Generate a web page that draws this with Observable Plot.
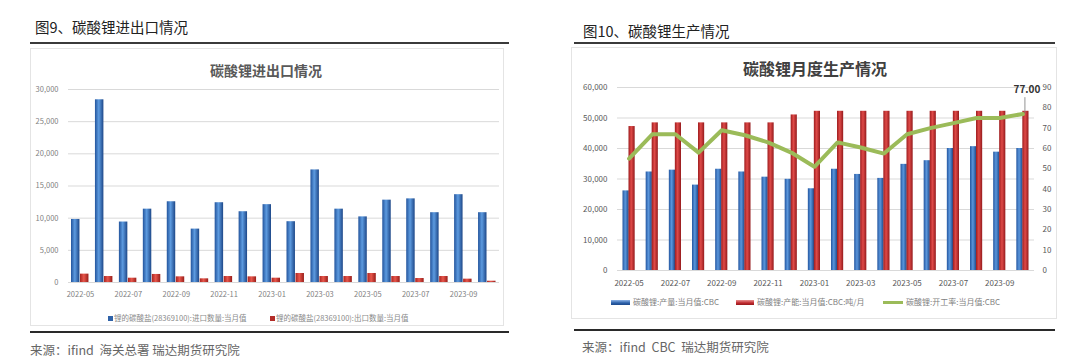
<!DOCTYPE html>
<html><head><meta charset="utf-8">
<script src="https://cdn.jsdelivr.net/npm/d3@7"></script>
<script src="https://cdn.jsdelivr.net/npm/@observablehq/plot@0.6"></script>
<style>
body{margin:0;background:#fff;}
#root{position:relative;width:1080px;height:363px;overflow:hidden;font-family:"Noto Sans CJK SC","Noto Sans",sans-serif;background:#fff;}
.abs{position:absolute;white-space:nowrap;}
.box{position:absolute;border:1px solid #e4e4e4;box-sizing:border-box;}
</style></head><body><div id="root"></div>
<script>
// ---- data ----
const months = ["2022-05","2022-06","2022-07","2022-08","2022-09","2022-10","2022-11","2022-12","2023-01","2023-02","2023-03","2023-04","2023-05","2023-06","2023-07","2023-08","2023-09","2023-10"];
const importQty = [9800,28400,9400,11400,12550,8300,12400,11000,12100,9450,17500,11400,10200,12800,13000,10850,13650,10850];
const exportQty = [1300,930,670,1250,880,570,930,880,670,1400,930,930,1400,930,620,930,520,200];
const production = [26100,32300,32900,28000,33200,32300,30600,29900,26800,33200,31500,30200,34800,36000,40000,40600,38800,40000];
const capacity = [47200,48400,48400,48400,48400,48400,48400,51000,52200,52200,52200,52200,52200,52200,52200,52200,52200,52200];
const rate = [55,67,67,58,69,66.5,63,58,51,63,60.5,57.5,67,70,72.5,75,75,77];
const yTicksLeft = [0,5000,10000,15000,20000,25000,30000];
const yTicksProd = [0,10000,20000,30000,40000,50000,60000];
const yTicksRate = [0,10,20,30,40,50,60,70,80,90];
const xTickLabels = months.filter((d,i)=>i%2===0);
const legendLeft = ["锂的碳酸盐(28369100):进口数量:当月值","锂的碳酸盐(28369100):出口数量:当月值"];
const legendRight = ["碳酸锂:产量:当月值:CBC","碳酸锂:产能:当月值:CBC:吨/月","碳酸锂:开工率:当月值:CBC"];

const FONT = '"Noto Sans CJK SC","Noto Sans",sans-serif';
const root = document.getElementById("root");
function add(html, css){const d=document.createElement("div");d.className="abs";d.innerHTML=html;Object.assign(d.style,css);root.appendChild(d);return d;}
function txt(s, left, cy, size, color, extra={}){return add(s,Object.assign({left:left+"px",top:(cy-size*0.7)+"px",fontSize:size+"px",lineHeight:(size*1.4)+"px",color},extra));}
function ctxt(s, cx, cy, size, color, extra={}){const d=txt(s,0,cy,size,color,extra);d.style.left=(cx-d.offsetWidth/2)+"px";return d;}
function addDefs(svg, html){const ns="http://www.w3.org/2000/svg";const defs=document.createElementNS(ns,"defs");defs.innerHTML=html;svg.insertBefore(defs,svg.firstChild);}

// ---- left panel ----
txt("图9、碳酸锂进出口情况",35,27,14.5,"#222");
add("",{left:"30px",top:"42px",width:"479px",height:"2px",background:"#3a3a3a"});
const boxL=document.createElement("div");boxL.className="box";Object.assign(boxL.style,{left:"30px",top:"48px",width:"474px",height:"278px"});root.appendChild(boxL);

const impData = months.map((m,i)=>({month:m,v:importQty[i]}));
const expData = months.map((m,i)=>({month:m,v:exportQty[i]}));
const leftPlot = Plot.plot({
  width:474,height:278,marginTop:41,marginBottom:44,marginLeft:38,marginRight:5,
  style:{fontFamily:FONT,fontSize:"7.5px",color:"#7f7f7f",background:"transparent"},
  x:{type:"band",domain:months,padding:0,round:false,label:null},
  y:{domain:[0,30000],label:null},
  marks:[
    Plot.gridY(yTicksLeft,{stroke:"#d9d9d9",strokeOpacity:1}),
    Plot.barY(impData,{x:"month",y:"v",fill:"url(#lgB)",insetLeft:3,insetRight:12.5}),
    Plot.barY(expData,{x:"month",y:"v",fill:"url(#lgR)",insetLeft:12,insetRight:3.5}),
    Plot.axisY(yTicksLeft,{tickSize:0,tickPadding:10,tickFormat:d3.format(","),label:null}),
    Plot.axisX(xTickLabels,{tickSize:0,tickPadding:9,label:null})
  ]
});
addDefs(leftPlot,`<linearGradient id="lgB" x1="0" x2="1" y1="0" y2="0"><stop offset="0" stop-color="#23549c"/><stop offset="0.45" stop-color="#5d9be0"/><stop offset="1" stop-color="#1d4788"/></linearGradient>
<linearGradient id="lgR" x1="0" x2="1" y1="0" y2="0"><stop offset="0" stop-color="#a82420"/><stop offset="0.45" stop-color="#e8574c"/><stop offset="1" stop-color="#981d19"/></linearGradient>`);
Object.assign(leftPlot.style,{position:"absolute",left:"30px",top:"48px"});
root.appendChild(leftPlot);
ctxt("碳酸锂进出口情况",266,71,14,"#595959",{fontWeight:"bold"});
add("",{left:"108px",top:"315.5px",width:"5px",height:"5px",background:"#2f62a8"});
txt(legendLeft[0],114,318,7.5,"#8a8a8a");
add("",{left:"270px",top:"315.5px",width:"5px",height:"5px",background:"#b32c28"});
txt(legendLeft[1],276,318,7.5,"#8a8a8a");
add("",{left:"30px",top:"331px",width:"479px",height:"2px",background:"#2a2a2a"});
txt("来源：ifind&nbsp; 海关总署 瑞达期货研究院",30,350,12.5,"#666");

// ---- right panel ----
txt("图10、碳酸锂生产情况",583,31,14.5,"#222");
add("",{left:"574px",top:"42px",width:"481px",height:"2px",background:"#3a3a3a"});
const boxR=document.createElement("div");boxR.className="box";Object.assign(boxR.style,{left:"571px",top:"47px",width:"486px",height:"272px"});root.appendChild(boxR);

const K = 60000/90;
const prodData = months.map((m,i)=>({month:m,prod:production[i],cap:capacity[i],rate:rate[i]}));
const last = [prodData[prodData.length-1]];
const rightPlot = Plot.plot({
  width:486,height:272,marginTop:40,marginBottom:49,marginLeft:46,marginRight:23,
  style:{fontFamily:FONT,fontSize:"8px",color:"#595959",background:"transparent"},
  x:{type:"band",domain:months,padding:0,round:false,label:null},
  y:{domain:[0,60000],label:null},
  marks:[
    Plot.gridY(yTicksProd,{stroke:"#d9d9d9",strokeOpacity:1}),
    Plot.barY(prodData,{x:"month",y:"prod",fill:"url(#rgB)",insetLeft:5.5,insetRight:11.5}),
    Plot.barY(prodData,{x:"month",y:"cap",fill:"url(#rgR)",insetLeft:11.5,insetRight:5.5}),
    Plot.line(prodData,{x:"month",y:d=>d.rate*K,stroke:"#9bbb59",strokeWidth:4,strokeLinejoin:"round"}),
    Plot.ruleX(last,{x:"month",y1:d=>d.rate*K,y2:d=>(d.rate+8)*K,stroke:"#777",strokeWidth:0.8,dx:2}),
    Plot.text(last,{x:"month",y:d=>d.rate*K,text:d=>d.rate.toFixed(2),dy:-24,dx:4,fontWeight:"bold",fontSize:10,fill:"#333"}),
    Plot.axisY(yTicksProd,{anchor:"left",tickSize:0,tickPadding:10,tickFormat:d3.format(","),label:null}),
    Plot.axisY(yTicksRate.map(v=>v*K),{anchor:"right",tickSize:0,tickPadding:8,tickFormat:v=>String(Math.round(v/K)),label:null}),
    Plot.axisX(xTickLabels,{tickSize:0,tickPadding:10,label:null})
  ]
});
addDefs(rightPlot,`<linearGradient id="rgB" x1="0" x2="1" y1="0" y2="0"><stop offset="0" stop-color="#2456a0"/><stop offset="0.45" stop-color="#5a96dc"/><stop offset="1" stop-color="#1f4a8c"/></linearGradient>
<linearGradient id="rgR" x1="0" x2="1" y1="0" y2="0"><stop offset="0" stop-color="#9e1c1e"/><stop offset="0.45" stop-color="#df4a48"/><stop offset="1" stop-color="#951a1c"/></linearGradient>`);
Object.assign(rightPlot.style,{position:"absolute",left:"571px",top:"47px"});
root.appendChild(rightPlot);
ctxt("碳酸锂月度生产情况",815,68,16,"#404040",{fontWeight:"bold"});
add("",{left:"611px",top:"299.5px",width:"19px",height:"5px",background:"linear-gradient(#8db4e8,#2a5fa8 60%,#1f4a8c)"});
txt(legendRight[0],633,302,8,"#7f7f7f");
add("",{left:"736px",top:"299.5px",width:"18px",height:"5px",background:"linear-gradient(#e89090,#c0282d 60%,#951a1c)"});
txt(legendRight[1],757,302,8,"#7f7f7f");
add("",{left:"883px",top:"300.5px",width:"20px",height:"3px",background:"#9bbb59"});
txt(legendRight[2],906,302,8,"#7f7f7f");
add("",{left:"574px",top:"329px",width:"481px",height:"2px",background:"#2a2a2a"});
txt("来源：ifind&nbsp; CBC&nbsp; 瑞达期货研究院",582,347,12.5,"#666");
</script>
</body></html>
